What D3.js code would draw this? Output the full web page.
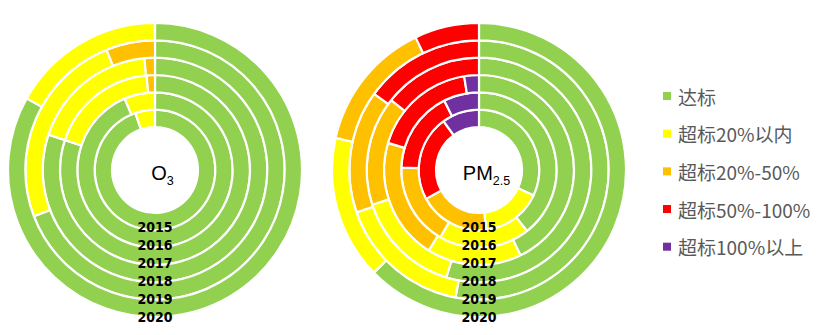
<!DOCTYPE html>
<html><head><meta charset="utf-8">
<script src="https://cdn.jsdelivr.net/npm/d3@7/dist/d3.min.js"></script>
<style>html,body{margin:0;padding:0;background:#fff;}svg{display:block;}</style>
</head><body>
<svg id="chart" width="827" height="335"></svg>
<script>
// ---------- data ----------
const years = ["2015","2016","2017","2018","2019","2020"];
const categories = ["达标","超标20%以内","超标20%-50%","超标50%-100%","超标100%以上"];
const colors = ["#92D050","#FFFF00","#FFC000","#FF0000","#7030A0"];

// O3: share (%) of each category per year
const o3Green  = [94.7, 93.6, 80.1, 80.1, 69.2, 83.1];
const o3Yellow = [5.3, 6.4, 18.5, 18.4, 24.7, 16.9];
const o3Orange = [0, 0, 1.4, 1.5, 6.1, 0];
const o3Red    = [0, 0, 0, 0, 0, 0];
const o3Purple = [0, 0, 0, 0, 0, 0];

// PM2.5: share (%) of each category per year
const pmGreen  = [31.9, 39.4, 42.8, 54.7, 52.9, 62.7];
const pmYellow = [16.1, 18.9, 16.1, 15.3, 16.8, 15.8];
const pmOrange = [19.0, 17.2, 20.7, 15.7, 15.3, 14.4];
const pmRed    = [22.9, 17.1, 17.9, 14.3, 15.0, 7.1];
const pmPurple = [10.0, 7.4, 2.5, 0, 0, 0];

// ---------- drawing ----------
const svg = d3.select("#chart");

function buildRows(series){
  return years.map((y,i)=>series.map(s=>s[i]));
}

const charts = [
  {cx:155, cy:170, rows: buildRows([o3Green,o3Yellow,o3Orange,o3Red,o3Purple]), title:["O","3"]},
  {cx:479, cy:170, rows: buildRows([pmGreen,pmYellow,pmOrange,pmRed,pmPurple]), title:["PM","2.5"]}
];

const ringR = d3.scaleLinear().domain([0, years.length]).range([43, 147]);
const labelY = d3.scaleLinear().domain([0, years.length-1]).range([227.3, 316.7]);
const pie = d3.pie().sort(null).value(d=>d.v);

charts.forEach(ch=>{
  const g = svg.append("g").attr("transform",`translate(${ch.cx},${ch.cy})`);
  ch.rows.forEach((row,i)=>{
    const arc = d3.arc().innerRadius(ringR(i)).outerRadius(ringR(i+1));
    const arcs = pie(row.map((v,k)=>({v,k}))).filter(a=>a.data.v>0);
    g.append("g").selectAll("path").data(arcs).join("path")
      .attr("d", arc)
      .attr("fill", a=>colors[a.data.k])
      .attr("stroke","#fff")
      .attr("stroke-width",2.2)
      .attr("stroke-linejoin","miter");
  });
  // year labels
  g.append("g").selectAll("text").data(years).join("text")
    .attr("x",0)
    .attr("y",(d,i)=>labelY(i)-ch.cy)
    .attr("text-anchor","middle")
    .attr("dominant-baseline","central")
    .attr("font-family","'Liberation Sans Narrow', 'DejaVu Sans Condensed', Arial, sans-serif")
    .attr("font-weight","bold")
    .attr("font-size","14px")
    .attr("fill","#000")
    .text(d=>d);
  // center title
  const t = g.append("text")
    .attr("x",7.5).attr("y",10)
    .attr("text-anchor","middle")
    .attr("font-family","'Liberation Sans', Arial, sans-serif")
    .attr("font-size","20px")
    .attr("fill","#000");
  t.append("tspan").text(ch.title[0]);
  t.append("tspan").attr("font-size","12.5px").attr("dy",5).text(ch.title[1]);
});

// legend
const ly = d3.scalePoint().domain(categories).range([96, 246.7]);
const lg = svg.append("g");
lg.selectAll("rect").data(categories).join("rect")
  .attr("x",663).attr("y",d=>ly(d)-4).attr("width",8).attr("height",8)
  .attr("fill",(d,i)=>colors[i]);
lg.selectAll("text").data(categories).join("text")
  .attr("x",678).attr("y",d=>ly(d))
  .attr("dominant-baseline","central")
  .attr("font-family","'Noto Sans CJK SC', 'Noto Sans', sans-serif")
  .attr("font-size","19px")
  .attr("fill","#595959")
  .text(d=>d);
</script>
</body></html>
